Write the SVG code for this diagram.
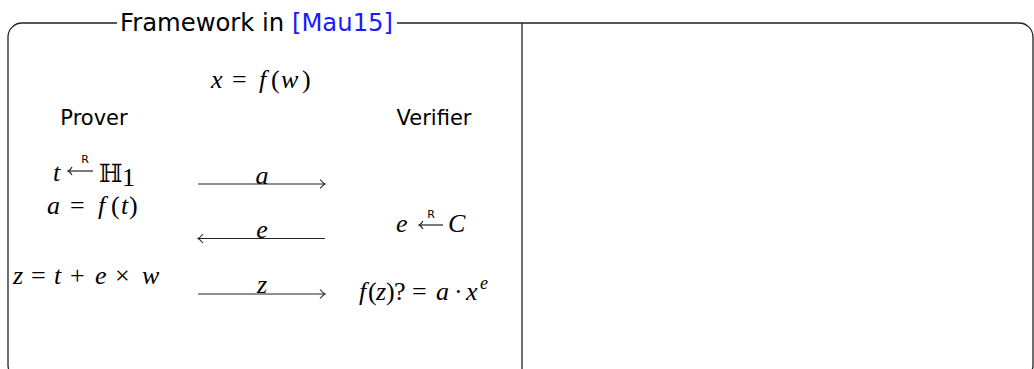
<svg xmlns="http://www.w3.org/2000/svg" width="1034" height="369" viewBox="0 0 1034 369">
<defs>
<style>
.frame{fill:none;stroke:#222;stroke-width:1.3}
.conn{fill:none;stroke:#222;stroke-width:1.2}
.hook{fill:none;stroke:#222;stroke-width:1.1}
.sans{font-family:"DejaVu Sans","Liberation Sans",sans-serif;fill:#000}
.m{font-family:"Liberation Serif","DejaVu Serif",serif;font-size:26px;fill:#000}
.i{font-style:italic}
.sm{font-family:"DejaVu Sans","Liberation Sans",sans-serif;font-size:11px;fill:#000}
</style>
<marker id="hd" viewBox="-8 -6 10 12" markerWidth="10" markerHeight="12" refX="0" refY="0" orient="auto" markerUnits="userSpaceOnUse">
<path d="M -5 -4.5 Q -2 -1 0 0 Q -2 1 -5 4.5" fill="none" stroke="#222" stroke-width="1.1"/>
</marker>
</defs>
<rect width="1034" height="369" fill="#fff"/>
<g id="frame">
<rect class="frame" x="8" y="23" width="1025" height="356" rx="14"/>
<line class="frame" x1="522" y1="23" x2="522" y2="369"/>
<rect x="117" y="8" width="280" height="30" fill="#fff"/>
<text class="sans" x="120" y="31" font-size="24" textLength="273" lengthAdjust="spacingAndGlyphs">Framework in <tspan fill="#1a1aff">[Mau15]</tspan></text>
</g>
<g id="setup"><text class="m"><tspan class="i" x="211" y="88">x</tspan><tspan x="232" y="88">=</tspan><tspan class="i" x="259" y="88">f</tspan><tspan x="271" y="88">(</tspan><tspan class="i" x="281" y="88">w</tspan><tspan x="302" y="88">)</tspan></text></g>
<g id="prover"><text class="sans" x="94" y="125" font-size="21" text-anchor="middle">Prover</text></g>
<g id="verifier"><text class="sans" x="434" y="125" font-size="21" text-anchor="middle">Verifier</text></g>
<g id="prover-commit">
<text class="m i" x="53" y="181">t</text>
<line class="conn" x1="68" y1="171" x2="93" y2="171"/>
<path class="hook" d="M 72 167 Q 70.5 170 68 171 Q 70.5 172 72 175"/>
<text class="sm" x="85" y="163" text-anchor="middle">R</text>
<text x="99" y="182" font-family="DejaVu Serif" font-size="25" fill="#000">ℍ</text>
<text class="m" x="122" y="186" font-size="16">1</text>
<text class="m"><tspan class="i" x="47" y="214">a</tspan><tspan x="70" y="214">=</tspan><tspan class="i" x="98" y="214">f</tspan><tspan x="111" y="214">(</tspan><tspan class="i" x="121" y="214">t</tspan><tspan x="129" y="214">)</tspan></text>
</g>
<g id="verifier-challenge">
<text class="m i" x="396" y="232">e</text>
<line class="conn" x1="419" y1="225" x2="443" y2="225"/>
<path class="hook" d="M 423 221 Q 421.5 224 419 225 Q 421.5 226 423 229"/>
<text class="sm" x="431" y="218" text-anchor="middle">R</text>
<text class="m i" x="448" y="232">C</text>
</g>
<g id="prover-response"><text class="m"><tspan class="i" x="13" y="284">z</tspan><tspan x="31" y="284">=</tspan><tspan class="i" x="54" y="284">t</tspan><tspan x="70" y="284">+</tspan><tspan class="i" x="95" y="284">e</tspan><tspan x="115" y="284">×</tspan><tspan class="i" x="142" y="284">w</tspan></text></g>
<g id="verifier-check"><text class="m"><tspan class="i" x="359" y="300">f</tspan><tspan x="368" y="300">(</tspan><tspan class="i" x="376" y="300">z</tspan><tspan x="386" y="300">)</tspan><tspan x="394" y="300">?</tspan><tspan x="412" y="300">=</tspan><tspan class="i" x="436" y="300">a</tspan><tspan x="454" y="300">·</tspan><tspan class="i" x="466" y="300">x</tspan><tspan class="i" x="480" y="289" font-size="18">e</tspan></text></g>
<g id="connectors">
<line class="conn" x1="198" y1="184" x2="325" y2="184" marker-end="url(#hd)"/>
<text class="m i" x="262" y="184" text-anchor="middle">a</text>
<line class="conn" x1="325" y1="238.5" x2="198" y2="238.5" marker-end="url(#hd)"/>
<text class="m i" x="262" y="238" text-anchor="middle">e</text>
<line class="conn" x1="198" y1="294" x2="325" y2="294" marker-end="url(#hd)"/>
<text class="m i" x="262" y="293" text-anchor="middle">z</text>
</g>
</svg>
